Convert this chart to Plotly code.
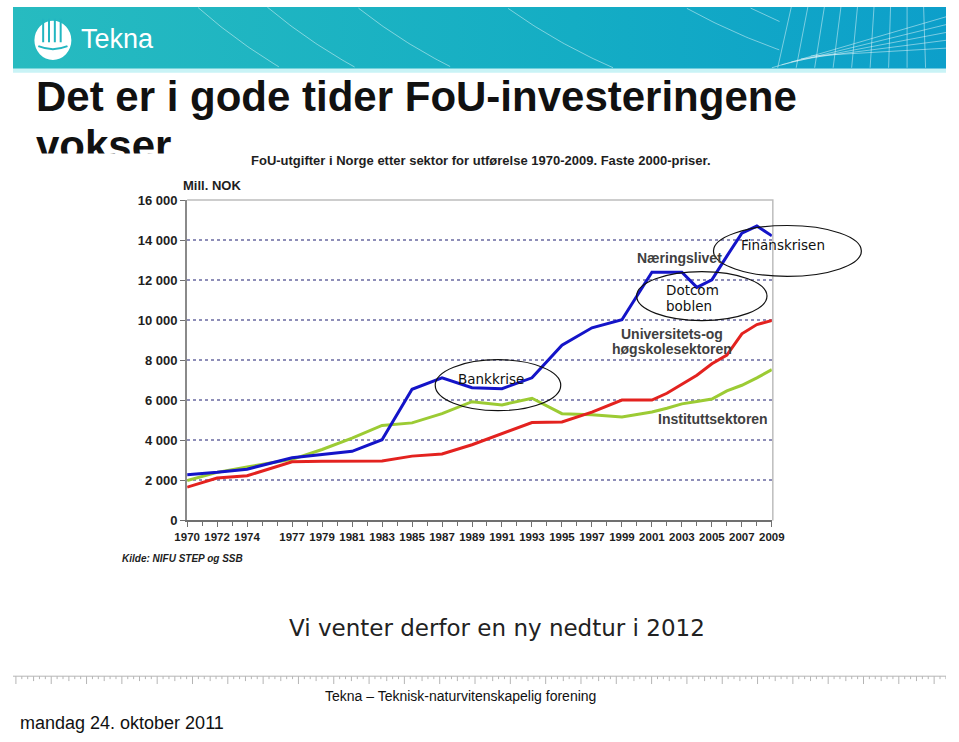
import numpy as np
import plotly.graph_objects as go

W, H = 959, 742

# ---------------- data ----------------
years = [1970, 1972, 1974, 1977, 1979, 1981, 1983, 1985, 1987, 1989, 1991, 1993,
         1995, 1997, 1999, 2001, 2002, 2003, 2004, 2005, 2006, 2007, 2008, 2009]
naeringslivet = [2280, 2400, 2560, 3130, 3290, 3450, 4030, 6550, 7120, 6630, 6580, 7120,
                 8750, 9620, 10020, 12390, 12390, 12390, 11640, 12010, 13200, 14340, 14700, 14210]
uoh_sektoren = [1660, 2120, 2230, 2930, 2950, 2960, 2970, 3210, 3320, 3780, 4350, 4890,
                4920, 5410, 6010, 6010, 6350, 6800, 7250, 7820, 8260, 9320, 9780, 9980]
instituttsektoren = [1990, 2400, 2670, 3050, 3540, 4110, 4740, 4870, 5330, 5930, 5770, 6100,
                     5330, 5280, 5170, 5410, 5600, 5820, 5940, 6060, 6470, 6750, 7120, 7530]

x_tick_years = [1970, 1972, 1974, 1977, 1979, 1981, 1983, 1985, 1987, 1989, 1991, 1993,
                1995, 1997, 1999, 2001, 2003, 2005, 2007, 2009]
y_tick_vals = [0, 2000, 4000, 6000, 8000, 10000, 12000, 14000, 16000]
y_tick_text = ["0", "2 000", "4 000", "6 000", "8 000", "10 000", "12 000", "14 000", "16 000"]


def px(x):
    return x / W


def py(y):
    return 1 - y / H


fig = go.Figure()

# ---------------- overlay (slide decorations, pixel coords) ----------------
fig.add_trace(go.Scatter(
    x=[0, W, W, 0, 0], y=[0, 0, 63, 63, 0], mode="lines", fill="toself",
    line=dict(width=0), fillgradient=dict(type="horizontal",
                                          colorscale=[[0, "#27bbc0"], [0.6, "#14adc4"], [1, "#0d9fca"]]),
    hoverinfo="skip", showlegend=False, xaxis="x", yaxis="y"))
fig.add_trace(go.Scatter(
    x=[0, W, W, 0, 0], y=[63, 63, 67, 67, 63], mode="lines", fill="toself",
    line=dict(width=0), fillcolor="#c9f3f6", hoverinfo="skip", showlegend=False,
    xaxis="x", yaxis="y"))

ax_, ay_ = [], []
for cx, cy, r in [(560, -420, 560), (620, -430, 560), (700, -440, 560), (850, -480, 590),
                  (1000, -560, 640), (1100, -700, 780), (1250, -900, 1000)]:
    t = np.linspace(0, np.pi, 600)
    xs = cx - r * np.cos(t)
    ys = cy + r * np.sin(t)
    m = (ys >= 0) & (ys <= 62) & (xs >= 0) & (xs <= 790)
    xs, ys = xs[m], ys[m]
    ax_ += list(xs) + [None]
    ay_ += list(ys) + [None]
for i in range(9):
    x0 = 800 + i * 17
    ax_ += [x0, x0 - 14 + i * 2, None]
    ay_ += [0, 62, None]
for i in range(5):
    ax_ += [780 + i * 10, 959, None]
    ay_ += [62 - i * 3, 10 + i * 8, None]
fig.add_trace(go.Scatter(x=ax_, y=ay_, mode="lines",
                         line=dict(color="rgba(255,255,255,0.45)", width=1),
                         hoverinfo="skip", showlegend=False, xaxis="x", yaxis="y"))

rx, ry = [0, W, None], [683, 683, None]
for i in range(0, 160):
    xx = 3 + i * 6.05
    ln = 8 if i % 6 == 0 else (5 if i % 3 == 0 else 3)
    rx += [xx, xx, None]
    ry += [683, 683 + ln, None]
fig.add_trace(go.Scatter(x=rx, y=ry, mode="lines", line=dict(color="#b5b5b5", width=1),
                         hoverinfo="skip", showlegend=False, xaxis="x", yaxis="y"))

# ---------------- main chart ----------------
common = dict(mode="lines", showlegend=False, xaxis="x2", yaxis="y2", line_shape="linear")
fig.add_trace(go.Scatter(x=years, y=instituttsektoren, line=dict(color="#9ccb34", width=3), **common))
fig.add_trace(go.Scatter(x=years, y=uoh_sektoren, line=dict(color="#e3221f", width=3), **common))
fig.add_trace(go.Scatter(x=years, y=naeringslivet, line=dict(color="#1414c8", width=3), **common))

left, right, top, bottom = 179, 780, 197, 524

fig.update_layout(
    width=W, height=H, margin=dict(l=0, r=0, t=0, b=0),
    paper_bgcolor="white", plot_bgcolor="white",
    xaxis=dict(domain=[0, 1], range=[0, W], visible=False, fixedrange=True),
    yaxis=dict(domain=[0, 1], range=[H, 0], visible=False, fixedrange=True),
    xaxis2=dict(domain=[px(left), px(right)], range=[1970, 2009], anchor="y2",
                tickvals=x_tick_years, ticktext=[str(v) for v in x_tick_years],
                ticks="outside", ticklen=5, tickcolor="#707070", tickwidth=1,
                minor=dict(dtick=1, tick0=1970, ticks="outside", ticklen=4, tickcolor="#707070"),
                showgrid=False, zeroline=False, showline=True, linecolor="#707070", linewidth=2,
                tickfont=dict(family="Liberation Sans", size=11.5, color="#1e1e1e", weight="bold")),
    yaxis2=dict(domain=[py(bottom), py(top)], range=[0, 16000], anchor="x2",
                tickvals=y_tick_vals, ticktext=y_tick_text,
                ticks="outside", ticklen=5, tickcolor="#707070",
                showgrid=True, gridcolor="#8e8eb8", griddash="dot", gridwidth=1.5,
                zeroline=False, showline=True, linecolor="#8a8a8a", linewidth=2,
                tickfont=dict(family="Liberation Sans", size=13, color="#1e1e1e", weight="bold")),
    showlegend=False,
)

shapes = []
shapes.append(dict(type="path", xref="paper", yref="paper",
                   path=f"M {px(left)},{py(top)} L {px(right+1)},{py(top)} L {px(right+1)},{py(bottom)}",
                   line=dict(color="#bdbdbd", width=1.5), layer="above"))
for (x0, y0, x1, y1) in [(720, 223, 872, 275), (641, 270, 775, 320), (434, 360, 563, 412)]:
    shapes.append(dict(type="circle", xref="paper", yref="paper",
                       x0=px(x0), x1=px(x1), y0=py(y1), y1=py(y0),
                       line=dict(color="#111111", width=1.2), layer="above"))
shapes.append(dict(type="circle", xref="paper", yref="paper",
                   x0=px(22), x1=px(60), y0=py(54), y1=py(14),
                   fillcolor="white", line=dict(width=0)))
for xx in [31, 37, 43, 49]:
    shapes.append(dict(type="line", xref="paper", yref="paper",
                       x0=px(xx), x1=px(xx), y0=py(36), y1=py(12),
                       line=dict(color="#22b6c1", width=2)))
shapes.append(dict(type="path", xref="paper", yref="paper",
                   path=f"M {px(26)},{py(40)} Q {px(41)},{py(46)} {px(56)},{py(40)}",
                   line=dict(color="#22b6c1", width=2)))
fig.update_layout(shapes=shapes)

ann = []


def A(text, x, y, size, family="Liberation Sans", color="#1e1e1e", xanchor="center",
      yanchor="middle", weight="normal", style="normal", **kw):
    d = dict(text=text, x=px(x), y=py(y), xref="paper", yref="paper", showarrow=False,
             xanchor=xanchor, yanchor=yanchor,
             font=dict(family=family, size=size, color=color, weight=weight, style=style))
    d.update(kw)
    ann.append(d)


A("Tekna", 68, 33, 27, color="white", xanchor="left")
A("Det er i gode tider FoU-investeringene", 22, 91, 42, color="#111111", xanchor="left", weight="bold")
A("vokser", 22, 141, 42, color="#111111", xanchor="left", weight="bold")
ann.append(dict(text=" ", x=0, y=py(149), xref="paper", yref="paper", showarrow=False,
                xanchor="left", yanchor="top", width=800, height=40, bgcolor="white",
                borderpad=0, font=dict(size=10)))
A("FoU-utgifter i Norge etter sektor for utførelse 1970-2009. Faste 2000-priser.",
  481, 157, 13, weight="bold")
A("Mill. NOK", 173, 182, 13, xanchor="left", weight="bold")
A("Næringslivet", 685, 256, 14, color="#404040", weight="bold")
A("Universitets-og", 677, 334, 14, color="#404040", weight="bold")
A("høgskolesektoren", 677, 349, 14, color="#404040", weight="bold")
A("Instituttsektoren", 720, 421, 14, color="#404040", weight="bold")
A("Finanskrisen", 791, 243, 13.5, family="DejaVu Sans", color="#111111")
A("Dotcom", 669, 289, 13.5, family="DejaVu Sans", color="#111111", xanchor="left")
A("boblen", 669, 305, 13.5, family="DejaVu Sans", color="#111111", xanchor="left")
A("Bankkrise", 491, 380, 13.5, family="DejaVu Sans", color="#111111")
A("Kilde: NIFU STEP og SSB", 110, 563, 10, xanchor="left", weight="bold", style="italic")
A("Vi venter derfor en ny nedtur i 2012", 497, 634, 23, family="DejaVu Sans", color="#222222")
A("Tekna – Teknisk-naturvitenskapelig forening", 460, 703, 14,
  family="Liberation Sans Narrow, Liberation Sans", color="#111111")
A("mandag 24. oktober 2011", 5, 731, 18, family="Liberation Sans Narrow, Liberation Sans",
  color="#111111", xanchor="left")
fig.update_layout(annotations=ann)

fig.write_html("out.html",
               post_script="document.body.style.margin='0';document.body.style.overflow='hidden';")
